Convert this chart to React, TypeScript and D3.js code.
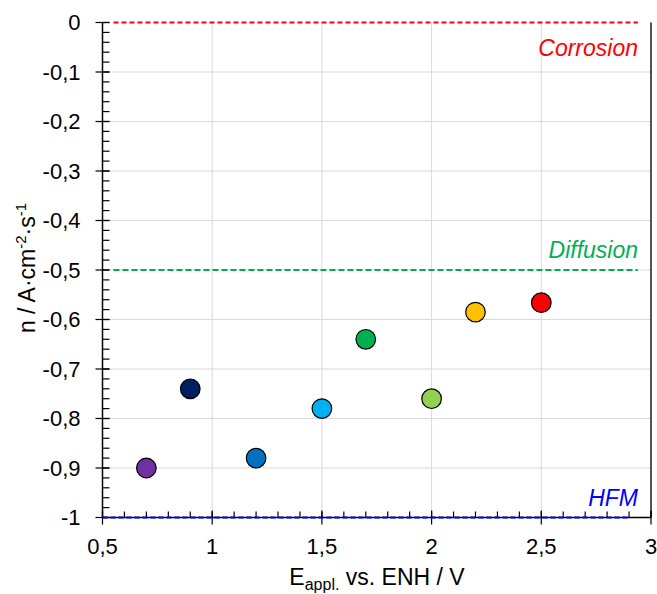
import React from "react";
import * as d3 from "d3";

const xValues = [0.7, 0.9, 1.2, 1.5, 1.7, 2.0, 2.2, 2.5];
const yValues = [-0.9, -0.74, -0.88, -0.78, -0.64, -0.76, -0.585, -0.566];
const pointColors = ["#7030A0", "#002060", "#0070C0", "#00B0F0", "#00B050", "#92D050", "#FFC000", "#FF0000"];
const xTicks = [0.5, 1, 1.5, 2, 2.5, 3];
const yTicks = [0, -0.1, -0.2, -0.3, -0.4, -0.5, -0.6, -0.7, -0.8, -0.9, -1];
const refLevels = [0, -0.5, -1];
const refLabels = ["Corrosion", "Diffusion", "HFM"];
const refColors = ["#FF0000", "#00B050", "#0000FF"];

const W = 657;
const H = 594;
const left = 102.5;
const right = 651;
const top = 22.5;
const bottom = 517.5;
const font = "Liberation Sans, Arial, sans-serif";

export default function App() {
  const x = d3.scaleLinear().domain([0.5, 3]).range([left, right]);
  const y = d3.scaleLinear().domain([0, -1]).range([top, bottom]);
  const fmt = (v: number) => (v === 0 ? "0" : String(v).replace(".", ","));
  const xMinor = d3.range(0.5, 3.0001, 0.1);
  const yMinor = d3.range(0, -1.0001, -0.02);

  const refX1 = [x(0.55), x(0.55), x(0.5)];
  const refX2 = [x(2.94), x(2.94), x(2.9)];
  const dashes = ["5,3", "6,3", "5,3"];
  const labelDy = [33, -12, -12];

  return (
    <svg width={W} height={H} style={{ position: "absolute", left: 0, top: 0 }}>
      <rect x={0} y={0} width={W} height={H} fill="#fff" />
      {/* grid */}
      {xTicks.slice(1).map((t) => (
        <line key={"gx" + t} x1={x(t)} x2={x(t)} y1={top} y2={bottom} stroke="#d9d9d9" strokeWidth={1} />
      ))}
      {yTicks.slice(1, -1).map((t) => (
        <line key={"gy" + t} x1={left} x2={right} y1={y(t)} y2={y(t)} stroke="#d9d9d9" strokeWidth={1} />
      ))}
      {/* right border */}
      <line x1={right} x2={right} y1={top} y2={bottom} stroke="#000" strokeWidth={1.3} />
      {/* axes */}
      <line x1={left} x2={left} y1={top} y2={bottom} stroke="#000" strokeWidth={1.5} />
      <line x1={left} x2={right} y1={bottom} y2={bottom} stroke="#000" strokeWidth={1.5} />
      {yMinor.map((t, i) => (
        <line key={"ym" + i} x1={left} x2={left + 7} y1={y(t)} y2={y(t)} stroke="#000" strokeWidth={1.2} />
      ))}
      {yTicks.map((t) => (
        <g key={"yt" + t}>
          <line x1={left - 7} x2={left + 7} y1={y(t)} y2={y(t)} stroke="#000" strokeWidth={1.2} />
          <text x={left - 22} y={y(t)} dy="0.36em" textAnchor="end" fontFamily={font} fontSize={22} fill="#000">
            {fmt(t)}
          </text>
        </g>
      ))}
      {xMinor.map((t, i) => (
        <line key={"xm" + i} x1={x(t)} x2={x(t)} y1={bottom - 6} y2={bottom} stroke="#000" strokeWidth={1.2} />
      ))}
      {xTicks.map((t) => (
        <g key={"xt" + t}>
          <line x1={x(t)} x2={x(t)} y1={bottom - 7} y2={bottom + 7} stroke="#000" strokeWidth={1.2} />
          <text x={x(t)} y={bottom + 36} textAnchor="middle" fontFamily={font} fontSize={22} fill="#000">
            {fmt(t)}
          </text>
        </g>
      ))}
      {/* reference lines */}
      {refLevels.map((v, i) => (
        <g key={"ref" + i}>
          <line x1={refX1[i]} x2={refX2[i]} y1={y(v)} y2={y(v)} stroke={refColors[i]} strokeWidth={1.8} strokeDasharray={dashes[i]} />
          <text x={638} y={y(v) + labelDy[i]} textAnchor="end" fontFamily={font} fontSize={23} fontStyle="italic" fill={refColors[i]}>
            {refLabels[i]}
          </text>
        </g>
      ))}
      {/* points */}
      {xValues.map((xv, i) => (
        <circle key={"p" + i} cx={x(xv)} cy={y(yValues[i])} r={9.8} fill={pointColors[i]} stroke="#000" strokeWidth={1.2} />
      ))}
      {/* axis titles */}
      <text x={377} y={585} textAnchor="middle" fontFamily={font} fontSize={23} fill="#000">
        E<tspan fontSize={16} dy={5}>appl.</tspan>
        <tspan dy={-5}> vs. ENH / V</tspan>
      </text>
      <text transform={`translate(35,268) rotate(-90)`} textAnchor="middle" fontFamily={font} fontSize={23} fill="#000">
        n / A·cm<tspan fontSize={15} dy={-9}>-2</tspan>
        <tspan dy={9}>·s</tspan>
        <tspan fontSize={15} dy={-9}>-1</tspan>
      </text>
    </svg>
  );
}
